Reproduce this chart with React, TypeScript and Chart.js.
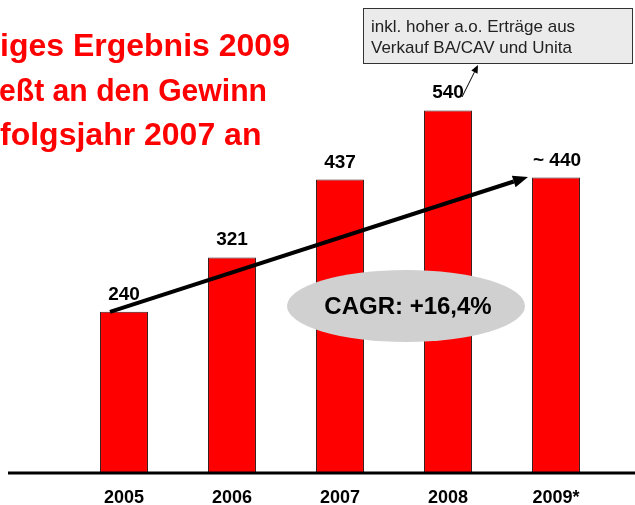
import React, { useEffect, useRef } from "react";
import { Chart, registerables } from "chart.js";

Chart.register(...registerables);

const categories = ["2005", "2006", "2007", "2008", "2009*"];
const values = [240, 321, 437, 540, 440];
const valueLabels = ["240", "321", "437", "540", "~ 440"];
const titleLines = ["iges Ergebnis 2009", "eßt an den Gewinn", "folgsjahr 2007 an"];
const noteLines = ["inkl. hoher a.o. Erträge aus", "Verkauf BA/CAV und Unita"];
const cagrText = "CAGR: +16,4%";
const trendFrom = 240;
const trendTo = 441;

const FONT = '"Liberation Sans", Arial, sans-serif';

const overlay = {
  id: "overlay",
  afterDatasetsDraw(chart: any) {
    const ctx = chart.ctx as CanvasRenderingContext2D;
    const xs = chart.scales.x;
    const ys = chart.scales.y;
    const y0 = ys.getPixelForValue(0);
    ctx.save();

    // baseline
    ctx.strokeStyle = "#000";
    ctx.lineWidth = 3;
    ctx.beginPath();
    ctx.moveTo(8, y0);
    ctx.lineTo(635, y0);
    ctx.stroke();

    // trend arrow
    const sx = xs.getPixelForValue(0) - 14;
    const sy = ys.getPixelForValue(trendFrom);
    const ex = xs.getPixelForValue(4) - 28;
    const ey = ys.getPixelForValue(trendTo);
    const ang = Math.atan2(ey - sy, ex - sx);
    const hl = 15, hw = 6;
    const bx = ex - hl * Math.cos(ang), by = ey - hl * Math.sin(ang);
    ctx.lineWidth = 4;
    ctx.beginPath();
    ctx.moveTo(sx, sy);
    ctx.lineTo(bx, by);
    ctx.stroke();
    ctx.fillStyle = "#000";
    ctx.beginPath();
    ctx.moveTo(ex, ey);
    ctx.lineTo(bx - hw * Math.sin(ang), by + hw * Math.cos(ang));
    ctx.lineTo(bx + hw * Math.sin(ang), by - hw * Math.cos(ang));
    ctx.closePath();
    ctx.fill();

    // CAGR ellipse
    ctx.fillStyle = "#d0d0d0";
    ctx.beginPath();
    ctx.ellipse(406, 306, 119, 36, 0, 0, Math.PI * 2);
    ctx.fill();
    ctx.fillStyle = "#000";
    ctx.font = `bold 24px ${FONT}`;
    ctx.textAlign = "center";
    ctx.textBaseline = "middle";
    ctx.fillText(cagrText, 408, 307);

    // value labels
    ctx.font = `bold 19px ${FONT}`;
    ctx.textBaseline = "alphabetic";
    values.forEach((v, i) => {
      const x = xs.getPixelForValue(i) + (i === 4 ? 1 : 0);
      ctx.fillText(valueLabels[i], x, ys.getPixelForValue(v) - 12);
    });

    // category labels
    ctx.font = `bold 18px ${FONT}`;
    categories.forEach((c, i) => {
      ctx.fillText(c, xs.getPixelForValue(i), y0 + 30);
    });

    // title
    ctx.fillStyle = "#ff0000";
    ctx.font = `bold 32px ${FONT}`;
    ctx.textAlign = "left";
    ctx.fillText(titleLines[0], 0, 56);
    ctx.fillText(titleLines[1], -1, 101, 268);
    ctx.fillText(titleLines[2], 0, 145);

    // note box
    ctx.fillStyle = "#ebebeb";
    ctx.fillRect(363, 8, 269, 55);
    ctx.strokeStyle = "#333";
    ctx.lineWidth = 1;
    ctx.strokeRect(363.5, 8.5, 269, 55);
    ctx.fillStyle = "#222";
    ctx.font = `17px ${FONT}`;
    ctx.textAlign = "left";
    ctx.fillText(noteLines[0], 371, 32);
    ctx.fillText(noteLines[1], 371, 53);

    // small arrow to box
    const ax0 = 462, ay0 = 97, ax1 = 478, ay1 = 65;
    const a2 = Math.atan2(ay1 - ay0, ax1 - ax0);
    const hb = 8, hh = 3.5;
    const cx = ax1 - hb * Math.cos(a2), cy = ay1 - hb * Math.sin(a2);
    ctx.strokeStyle = "#000";
    ctx.lineWidth = 1;
    ctx.beginPath();
    ctx.moveTo(ax0, ay0);
    ctx.lineTo(cx, cy);
    ctx.stroke();
    ctx.fillStyle = "#000";
    ctx.beginPath();
    ctx.moveTo(ax1, ay1);
    ctx.lineTo(cx - hh * Math.sin(a2), cy + hh * Math.cos(a2));
    ctx.lineTo(cx + hh * Math.sin(a2), cy - hh * Math.cos(a2));
    ctx.closePath();
    ctx.fill();

    ctx.restore();
  },
};

export default function App() {
  const ref = useRef<HTMLCanvasElement>(null);
  useEffect(() => {
    document.body.style.margin = "0";
    const chart = new Chart(ref.current!, {
      type: "bar",
      data: {
        labels: categories,
        datasets: [
          {
            data: values,
            backgroundColor: "#ff0000",
            borderColor: "#3a1a1a",
            borderWidth: 1,
            borderSkipped: false,
            categoryPercentage: 1,
            barPercentage: 0.444,
          },
        ],
      },
      options: {
        responsive: false,
        animation: false,
        layout: { padding: { left: 70, right: 25, top: 3, bottom: 32 } },
        plugins: { legend: { display: false }, tooltip: { enabled: false } },
        scales: {
          x: { display: false },
          y: { display: false, min: 0, max: 700 },
        },
      },
      plugins: [overlay],
    });
    return () => chart.destroy();
  }, []);
  return (
    <div style={{ position: "absolute", left: 0, top: 0, width: 635, height: 505, background: "#fff" }}>
      <canvas ref={ref} width={635} height={505} />
    </div>
  );
}
